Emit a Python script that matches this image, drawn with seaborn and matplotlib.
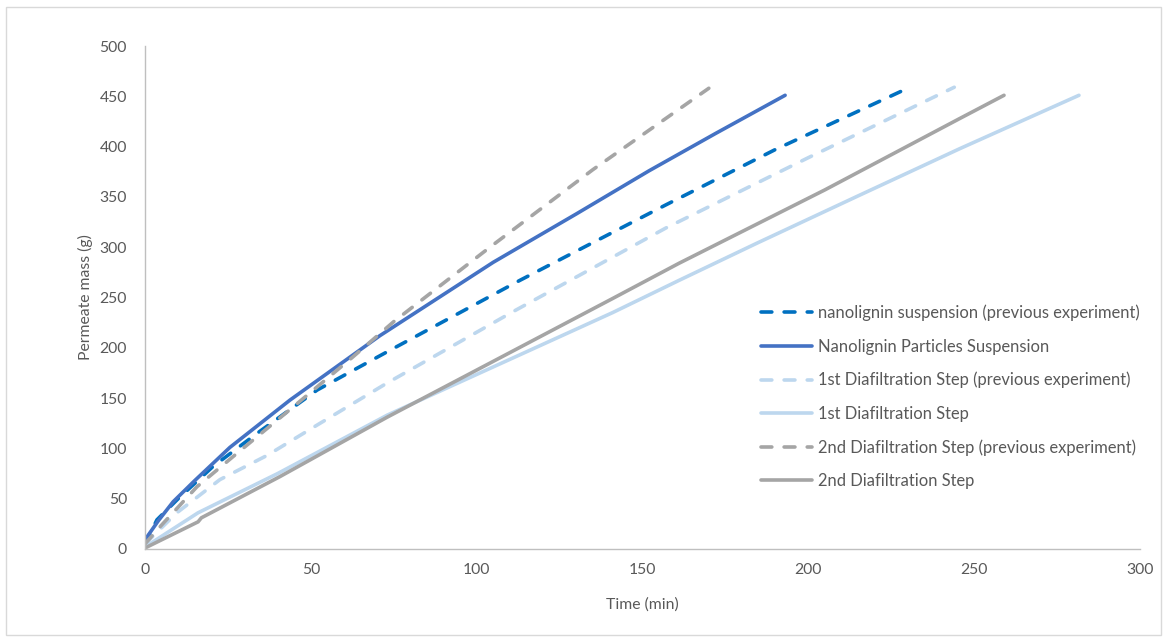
import matplotlib
matplotlib.use("Agg")
import matplotlib.pyplot as plt
from matplotlib.patches import Rectangle
import seaborn as sns
import pandas as pd

# Permeate mass (g) against filtration time (min) for each run
nano_prev_t = [0, 3.6, 10, 20.5, 33.8, 51.9, 73, 113, 157, 190, 228]
nano_prev_m = [5, 29, 50, 82, 115, 158, 196, 267, 342, 397, 455]

nano_t = [0, 0.6, 4, 8.5, 15, 25.6, 43.7, 70.8, 105, 130, 152, 172, 193]
nano_m = [8, 12, 28, 47, 68, 101, 148, 212, 285, 333, 376, 413, 451]

d1_prev_t = [0, 9.6, 22.6, 36.8, 52.8, 73, 111, 157, 200, 244]
d1_prev_m = [5, 36, 69, 93, 125, 165, 236, 319, 389, 459]

d1_t = [0, 16, 40, 73, 141, 161, 184.5, 215, 245.7, 281.6]
d1_m = [2, 36, 75, 133, 235, 267, 304, 351, 398, 451]

d2_prev_t = [0, 4.5, 15.7, 27.7, 44.6, 62.7, 75, 104, 135, 170]
d2_prev_m = [5, 22, 62, 95, 141, 191, 226, 300, 377, 458]

d2_t = [0, 16, 17, 40.7, 73, 141, 161, 205, 245.7, 259]
d2_m = [1, 27, 31, 72, 131, 249, 284, 357, 428, 451]

labels = [
    "nanolignin suspension (previous experiment)",
    "Nanolignin Particles Suspension",
    "1st Diafiltration Step (previous experiment)",
    "1st Diafiltration Step",
    "2nd Diafiltration Step (previous experiment)",
    "2nd Diafiltration Step",
]
x_ticks = [0, 50, 100, 150, 200, 250, 300]
y_ticks = [0, 50, 100, 150, 200, 250, 300, 350, 400, 450, 500]

series = [
    (nano_prev_t, nano_prev_m, "#0070C0", True),
    (nano_t, nano_m, "#4472C4", False),
    (d1_prev_t, d1_prev_m, "#BDD7EE", True),
    (d1_t, d1_m, "#BDD7EE", False),
    (d2_prev_t, d2_prev_m, "#A5A5A5", True),
    (d2_t, d2_m, "#A5A5A5", False),
]

sns.set_theme(style="white")
plt.rcParams["font.family"] = ["Lato", "DejaVu Sans"]

fig = plt.figure(figsize=(11.67, 6.41), dpi=100)
ax = fig.add_axes([145 / 1167, 1 - 549 / 641, 995 / 1167, 503 / 641])

for (t, m, color, dashed), label in zip(series, labels):
    df = pd.DataFrame({"Time (min)": t, "Permeate mass (g)": m})
    line_kw = dict(color=color, linewidth=2.6, label=label,
                   solid_capstyle="round", dash_capstyle="round")
    if dashed:
        line_kw["dashes"] = (3.0, 3.4)
    sns.lineplot(data=df, x="Time (min)", y="Permeate mass (g)", ax=ax,
                 estimator=None, sort=False, **line_kw)

ax.set_xlim(0, 300)
ax.set_ylim(0, 500)
ax.set_xticks(x_ticks)
ax.set_yticks(y_ticks)
ax.tick_params(axis="y", length=0, labelsize=11.3, labelcolor="#595959", pad=13)
ax.tick_params(axis="x", length=0, labelsize=11.3, labelcolor="#595959", pad=10)
for side in ("top", "right"):
    ax.spines[side].set_visible(False)
for side in ("left", "bottom"):
    ax.spines[side].set_color("#BFBFBF")
    ax.spines[side].set_linewidth(1.0)
ax.grid(False)
ax.set_xlabel("Time (min)", fontsize=11.3, color="#595959", labelpad=15)
ax.set_ylabel("Permeate mass (g)", fontsize=11.3, color="#595959", labelpad=5)

leg = ax.legend(loc="upper left", bbox_to_anchor=(754 / 1167, 1 - 298 / 641),
                bbox_transform=fig.transFigure, frameon=False, fontsize=11.9,
                labelcolor="#595959", handlelength=3.1, handletextpad=0.4,
                labelspacing=1.05, borderaxespad=0)

fig.patches.append(Rectangle((6 / 1167, 6 / 641), 1155 / 1167, 628 / 641,
                             transform=fig.transFigure, fill=False,
                             edgecolor="#D9D9D9", linewidth=1.0))

fig.savefig("out.png", dpi=100)
